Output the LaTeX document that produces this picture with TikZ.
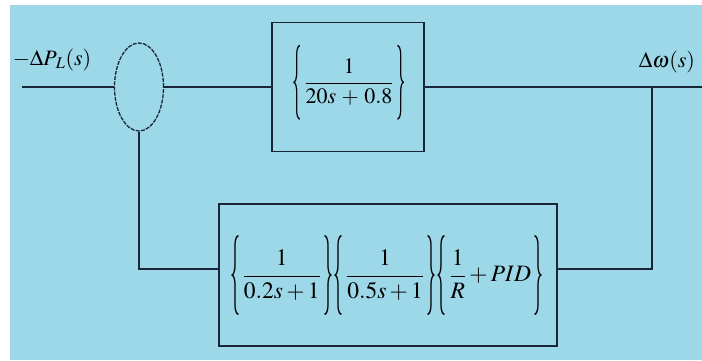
\documentclass[tikz,border=0pt]{standalone}
\usepackage{mathptmx}
\usepackage{graphicx}
\usetikzlibrary{shapes.geometric}
\definecolor{bgblue}{RGB}{157,216,232}
\definecolor{ink}{RGB}{25,38,55}
\newcommand{\lbrc}{\mathopen{\vcenter{\hbox{\scalebox{0.85}[3.4]{$\{$}}}}\,}
\newcommand{\rbrc}{\,\mathclose{\vcenter{\hbox{\scalebox{0.85}[3.4]{$\}$}}}}}
\tikzset{
  wire/.style={draw=ink, line width=1.4pt},
  blockbox/.style={draw=ink, line width=1.4pt, rectangle, inner sep=0pt},
  sumnode/.style={draw=ink, line width=1.3pt, ellipse, dash pattern=on 4pt off 1.2pt, inner sep=0pt, minimum width=49pt, minimum height=88pt},
  formula/.style={inner sep=0pt, text=black, font=\fontsize{22}{26}\selectfont},
  formulab/.style={inner sep=0pt, text=black, font=\fontsize{23.5}{27}\selectfont},
  sig/.style={inner sep=0pt, text=black, font=\fontsize{22}{26}\selectfont}
}
\begin{document}
\begin{tikzpicture}[x=1pt,y=-1pt]
\useasboundingbox (0,0) rectangle (702,360);
\fill[white] (0,0) rectangle (702,360);
\fill[bgblue] (10,5) rectangle (702,360);

\node[sumnode] (sum) at (139,87) {};
\node[blockbox, minimum width=152pt, minimum height=129pt] (G) at (348,87) {};
\node[blockbox, minimum width=338pt, minimum height=142pt] (H) at (388,275) {};

\node[formula] (Gtf) at (349,83) {$\displaystyle\lbrc\frac{1}{20s\,+\,0.8}\rbrc$};
\node[formulab] (Htf) at (387,276) {$\displaystyle\lbrc\frac{1}{0.2s+1}\rbrc\lbrc\frac{1}{0.5s+1}\rbrc\lbrc\frac{1}{R}+PID\rbrc$};

\node[sig] (inlabel) at (52,60) {$-\Delta P_{\mkern2mu L}(s)$};
\node[sig] (outlabel) at (667,62) {$\Delta\omega(s)$};

\coordinate (inp) at (22,87);
\coordinate (out) at (702,87);
\coordinate (tap) at (652,87);
\coordinate (fb) at (0,269);

\draw[wire] (inp) -- (sum.west);
\draw[wire] (sum.east) -- (G.west);
\draw[wire] (G.east) -- (out);
\draw[wire] (tap) |- (H.east |- fb);
\draw[wire] (H.west |- fb) -| (sum.south);
\end{tikzpicture}
\end{document}
